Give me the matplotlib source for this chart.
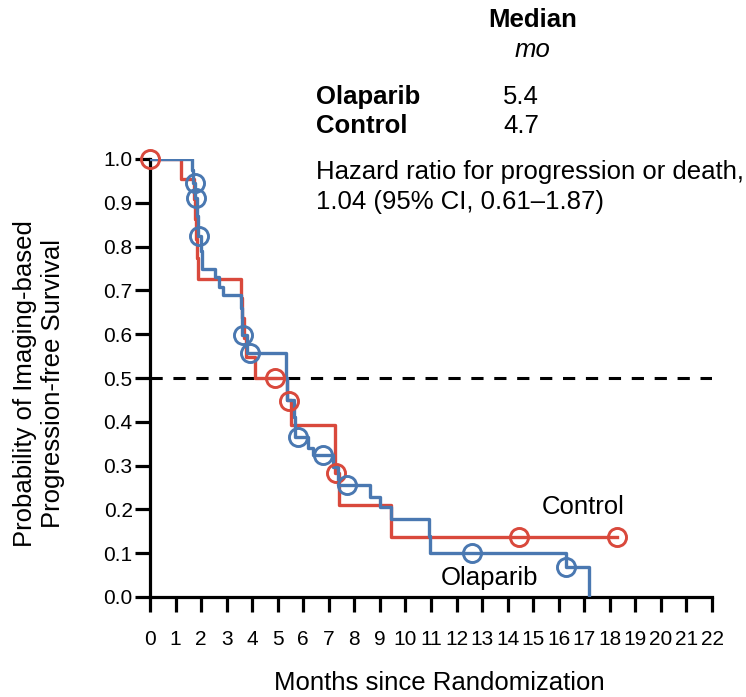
import matplotlib.pyplot as plt

plt.rcParams['font.family'] = ['Liberation Sans', 'DejaVu Sans']

# Kaplan-Meier steps (months, survival probability)
ctrl_time = [0, 1.23, 1.72, 1.76, 1.80, 1.84, 1.88, 3.58, 3.62, 3.68, 3.75, 4.10,
             5.36, 5.52, 7.25, 7.38, 9.42, 18.28]
ctrl_surv = [1.0, 0.955, 0.909, 0.864, 0.818, 0.773, 0.727, 0.682, 0.636, 0.591, 0.548, 0.5,
             0.45, 0.393, 0.283, 0.21, 0.138, 0.138]
ctrl_cens_time = [0, 4.9, 5.44, 7.3, 14.45, 18.28]
ctrl_cens_surv = [1.0, 0.5, 0.447, 0.283, 0.138, 0.138]

ola_time = [0, 1.65, 1.70, 1.78, 1.84, 1.88, 1.98, 2.02, 2.55, 2.72, 2.85, 3.57, 3.60, 3.62,
            3.80, 5.33, 5.36, 5.62, 5.68, 6.18, 6.38, 7.16, 7.36, 8.62, 9.02, 9.42, 10.92,
            10.98, 16.28, 17.2]
ola_surv = [1.0, 0.975, 0.945, 0.911, 0.87, 0.824, 0.79, 0.75, 0.73, 0.708, 0.69, 0.66, 0.62,
            0.598, 0.557, 0.50, 0.45, 0.41, 0.365, 0.34, 0.324, 0.297, 0.256, 0.228, 0.205,
            0.178, 0.14, 0.10, 0.068, 0.0]
ola_cens_time = [1.76, 1.80, 1.92, 3.64, 3.91, 5.8, 6.77, 7.7, 12.6, 16.3]
ola_cens_surv = [0.945, 0.911, 0.824, 0.598, 0.557, 0.365, 0.324, 0.256, 0.10, 0.068]

x_ticks = list(range(0, 23))
y_ticks = [i / 10 for i in range(11)]

red = '#d9493c'
blue = '#4a78b1'

W, H = 746, 697
fig = plt.figure(figsize=(W / 100, H / 100), dpi=100)
ax = fig.add_axes([150 / W, 1 - 597 / H, (712 - 150) / W, (597 - 159) / H])

ax.axhline(0.5, color='black', lw=2.2, ls=(0, (4, 3.5)), zorder=1)

ax.step(ctrl_time, ctrl_surv, where='post', color=red, lw=2.4, zorder=2)
ax.step(ola_time, ola_surv, where='post', color=blue, lw=2.4, zorder=3)
ax.plot(ctrl_cens_time, ctrl_cens_surv, 'o', ms=13, mfc='none', mec=red, mew=2.1,
        clip_on=False, zorder=4)
ax.plot(ola_cens_time, ola_cens_surv, 'o', ms=13, mfc='none', mec=blue, mew=2.1,
        clip_on=False, zorder=5)

ax.set_xlim(0, 22)
ax.set_ylim(0, 1.0)
ax.set_xticks(x_ticks)
ax.set_yticks(y_ticks)
ax.set_yticklabels([f'{v:.1f}' for v in y_ticks])
for s in ['top', 'right']:
    ax.spines[s].set_visible(False)
for s in ['left', 'bottom']:
    ax.spines[s].set_linewidth(2.3)
ax.tick_params(axis='y', length=10.5, width=2.3, pad=2, labelsize=15, colors='black')
ax.tick_params(axis='x', length=10.5, width=2.3, pad=13, labelsize=15)

def px(x, y):
    return x / W, 1 - y / H

fs = 18.5
fig.text(*px(439, 683), 'Months since Randomization', fontsize=fs, ha='center', va='center')
fig.text(*px(39, 384), 'Probability of Imaging-based\nProgression-free Survival', fontsize=fs,
         ha='center', va='center', rotation=90, linespacing=1.25)

fig.text(*px(533, 20), 'Median', fontsize=fs, fontweight='bold', ha='center', va='center')
fig.text(*px(533, 50), 'mo', fontsize=fs, style='italic', ha='center', va='center')
fig.text(*px(316, 97), 'Olaparib', fontsize=fs, fontweight='bold', ha='left', va='center')
fig.text(*px(503, 97), '5.4', fontsize=fs, ha='left', va='center')
fig.text(*px(316, 126), 'Control', fontsize=fs, fontweight='bold', ha='left', va='center')
fig.text(*px(503, 126), '4.7', fontsize=fs, ha='left', va='center')
fig.text(*px(316, 172), 'Hazard ratio for progression or death,', fontsize=fs,
         ha='left', va='center')
fig.text(*px(316, 202), '1.04 (95% CI, 0.61\u20131.87)', fontsize=fs, ha='left', va='center')

# curve labels in data coordinates
ax.text(16.95, 0.205, 'Control', fontsize=fs, ha='center', va='center')
ax.text(13.3, 0.043, 'Olaparib', fontsize=fs, ha='center', va='center')

fig.savefig('out.png', dpi=100)
